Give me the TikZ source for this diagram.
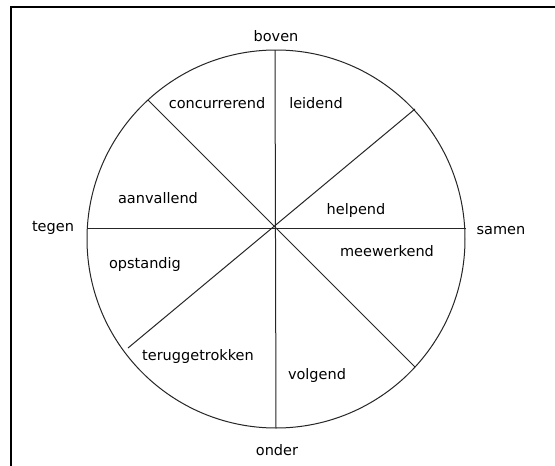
\documentclass[tikz,border=0pt]{standalone}
\usepackage{fontspec}
\setmainfont{DejaVu Sans}
\begin{document}
\begin{tikzpicture}[x=1pt,y=-1pt,
  lbl/.style={font=\fontsize{14.5}{16}\selectfont, text=black, inner sep=0pt},
  spoke/.style={draw=black!85, line width=1pt},
  rim/.style={draw=black!85, line width=1pt}]
\useasboundingbox[fill=white] (0,0) rectangle (555,466);
% frame
\draw[line width=2pt] (11,470) -- (11,7) -- (560,7);
% circle
\coordinate (c) at (276,239);
\coordinate (o) at (275,228);
\draw[rim] (c) circle[radius=189];
% spokes
\coordinate (t) at (275,50);
\coordinate (b) at (276,428);
\coordinate (l) at (87,228);
\coordinate (r) at (466,228);
\coordinate (ul) at (148,100);
\coordinate (lr) at (415,367);
\coordinate (ur) at (415,109);
\coordinate (ll) at (128,348);
\draw[spoke] (t) -- (b);
\draw[spoke] (l) -- (r);
\draw[spoke] (ul) -- (lr);
\draw[spoke] (ur) -- (ll);
% outer labels
\node[lbl] (boven) at (276,36) {boven};
\node[lbl] (onder) at (277,450) {onder};
\node[lbl] (tegen) at (53,228) {tegen};
\node[lbl] (samen) at (501,231) {samen};
% sector labels
\node[lbl] (concurrerend) at (217,103) {concurrerend};
\node[lbl] (leidend) at (316,103) {leidend};
\node[lbl] (aanvallend) at (158,198) {aanvallend};
\node[lbl] (helpend) at (356,210) {helpend};
\node[lbl] (meewerkend) at (387,251) {meewerkend};
\node[lbl] (opstandig) at (145,264) {opstandig};
\node[lbl] (teruggetrokken) at (198,356) {teruggetrokken};
\node[lbl] (volgend) at (317,375) {volgend};
\end{tikzpicture}
\end{document}
